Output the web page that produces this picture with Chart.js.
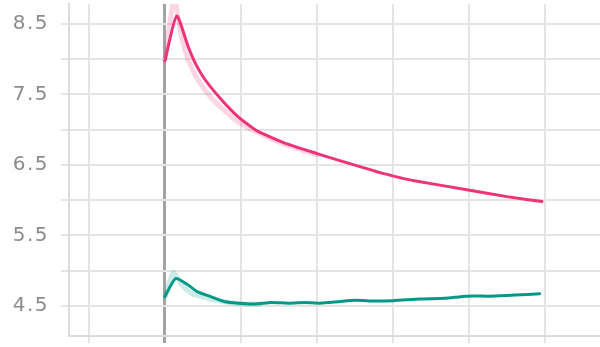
<!DOCTYPE html>
<html>
<head>
<meta charset="utf-8">
<script src="https://cdn.jsdelivr.net/npm/chart.js@4/dist/chart.umd.min.js"></script>
<style>
  html, body { margin: 0; padding: 0; background: #ffffff; }
  #wrap { width: 600px; height: 347px; }
</style>
</head>
<body>
<div id="wrap"><canvas id="chart" width="600" height="347"></canvas></div>
<script>
// Training step (in thousands) and loss readings for two runs
const pinkSteps = [1.00, 1.154, 1.307, 1.395, 1.526, 1.746, 1.964, 2.184, 2.25, 2.55, 3.00, 3.30, 3.52, 3.83, 4.09, 4.26, 5.01, 5.50, 5.96];
const pinkLoss  = [7.98, 8.61, 8.17, 7.95, 7.71, 7.42, 7.18, 7.00, 6.96, 6.82, 6.66, 6.56, 6.49, 6.39, 6.32, 6.28, 6.14, 6.05, 5.98];

const pinkRawSteps = [1.00, 1.12, 1.22, 1.32, 1.45, 1.60, 1.75, 1.95, 2.20, 2.55, 3.00];
const pinkRawLoss  = [7.98, 8.85, 8.30, 7.95, 7.68, 7.46, 7.30, 7.12, 6.97, 6.80, 6.64];

const tealSteps = [1.00, 1.14, 1.30, 1.43, 1.61, 1.79, 1.96, 2.18, 2.40, 2.64, 2.84, 3.04, 3.28, 3.50, 3.76, 4.00, 4.36, 4.68, 4.97, 5.28, 5.61, 5.93];
const tealLoss  = [4.635, 4.89, 4.80, 4.70, 4.63, 4.56, 4.54, 4.53, 4.55, 4.54, 4.55, 4.54, 4.56, 4.58, 4.57, 4.575, 4.60, 4.61, 4.64, 4.64, 4.655, 4.675];

const tealRawSteps = [1.00, 1.11, 1.22, 1.35, 1.50, 1.68, 1.85, 2.05, 2.25];
const tealRawLoss  = [4.635, 4.97, 4.80, 4.68, 4.63, 4.58, 4.55, 4.53, 4.53];

const xTickValues = [0, 1, 2, 3, 4, 5, 6];
const yTickValues = [4.5, 5.0, 5.5, 6.0, 6.5, 7.0, 7.5, 8.0, 8.5];
const markerStep = 1;

const toPoints = (xs, ys) => xs.map((x, i) => ({ x: x, y: ys[i] }));

const PINK = '#ee3377';
const TEAL = '#009988';

// keep the plot area flush with the canvas edges
const noEdgePadding = (axis) => {
  axis.paddingTop = 0; axis.paddingBottom = 0;
  axis.paddingLeft = 0; axis.paddingRight = 0;
};

// slightly airy tick lettering
const tickSpacing = {
  id: 'tickSpacing',
  beforeDraw: (chart) => { chart.ctx.letterSpacing = '1.5px'; }
};

new Chart(document.getElementById('chart'), {
  type: 'line',
  plugins: [tickSpacing],
  data: {
    datasets: [
      { data: toPoints(pinkRawSteps, pinkRawLoss), borderColor: 'rgba(238,51,119,0.2)', borderWidth: 5, tension: 0.25 },
      { data: toPoints(tealRawSteps, tealRawLoss), borderColor: 'rgba(0,153,136,0.2)', borderWidth: 5, tension: 0.25 },
      { data: toPoints(pinkSteps, pinkLoss), borderColor: PINK, borderWidth: 3, tension: 0.2 },
      { data: toPoints(tealSteps, tealLoss), borderColor: TEAL, borderWidth: 3, tension: 0.2 }
    ]
  },
  options: {
    responsive: false,
    animation: false,
    events: [],
    layout: { padding: { top: 4, right: 0, bottom: 0, left: 0 } },
    elements: { point: { radius: 0 }, line: { borderCapStyle: 'round', borderJoinStyle: 'round' } },
    plugins: { legend: { display: false }, tooltip: { enabled: false } },
    scales: {
      x: {
        type: 'linear',
        min: -0.263,
        max: 6.724,
        afterBuildTicks: (axis) => { axis.ticks = xTickValues.map(v => ({ value: v })); },
        afterFit: (axis) => { axis.height = 11; noEdgePadding(axis); },
        ticks: { callback: () => '' },
        border: { color: '#dcdcdc', width: 2 },
        grid: {
          color: (ctx) => (ctx.tick && ctx.tick.value === markerStep) ? '#a3a3a3' : '#e4e4e4',
          lineWidth: (ctx) => (ctx.tick && ctx.tick.value === markerStep) ? 3 : 2,
          tickLength: 7
        }
      },
      y: {
        type: 'linear',
        min: 4.075,
        max: 8.78,
        afterBuildTicks: (axis) => { axis.ticks = yTickValues.map(v => ({ value: v })); },
        afterFit: (axis) => { axis.width = 69; noEdgePadding(axis); },
        ticks: {
          padding: 12,
          color: '#8c8c8c',
          font: { family: 'DejaVu Sans', size: 20 },
          callback: (v) => (Math.round(v * 2) % 2 === 1) ? v.toFixed(1) : ''
        },
        border: { color: '#dcdcdc', width: 2 },
        grid: { color: '#e4e4e4', lineWidth: 2, tickLength: 8 }
      }
    }
  }
});
</script>
</body>
</html>
